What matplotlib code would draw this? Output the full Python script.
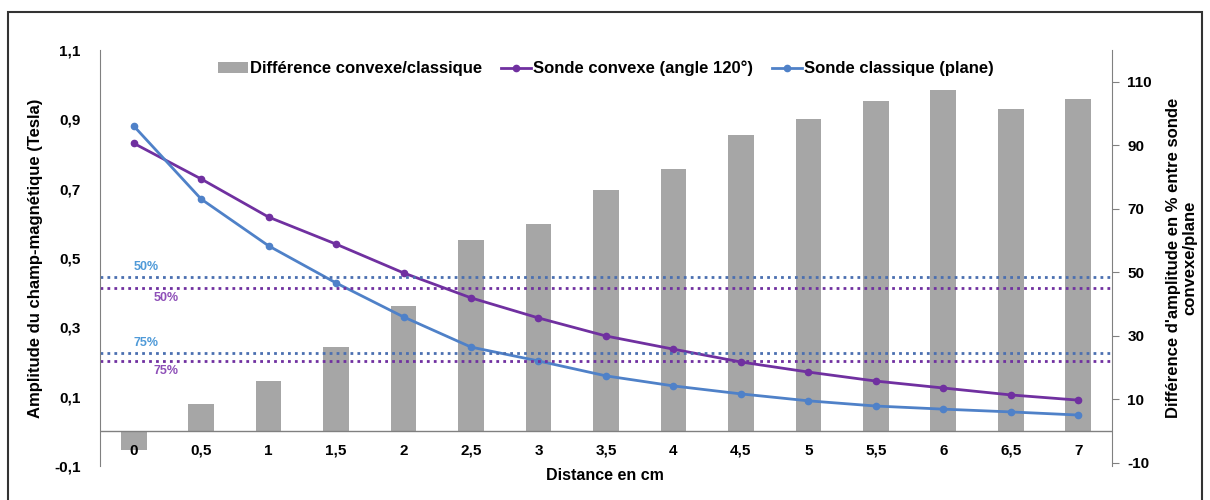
import matplotlib.pyplot as plt
import numpy as np
from matplotlib.patches import Rectangle

plt.rcParams['font.family'] = ['Liberation Sans', 'DejaVu Sans']
plt.rcParams['font.weight'] = 'bold'
plt.rcParams['axes.unicode_minus'] = False

distances = ['0', '0,5', '1', '1,5', '2', '2,5', '3', '3,5', '4', '4,5', '5', '5,5', '6', '6,5', '7']
diff_pct = [-6, 8.6, 15.8, 26.5, 39.4, 60.2, 65.3, 76, 82.6, 93.3, 98.3, 104, 107.5, 101.5, 104.5]
convexe = [0.831, 0.728, 0.618, 0.540, 0.457, 0.385, 0.327, 0.275, 0.237, 0.200, 0.171, 0.145, 0.125, 0.105, 0.090]
classique = [0.881, 0.670, 0.535, 0.428, 0.330, 0.243, 0.203, 0.160, 0.131, 0.108, 0.088, 0.073, 0.064, 0.056, 0.047]
seuils_classique = [0.445, 0.226]   # 50% et 75% sonde plane
seuils_convexe = [0.414, 0.203]     # 50% et 75% sonde convexe
seuil_labels = ['50%', '75%']

c_purple = '#7030a0'
c_blue = '#4f81c8'
c_bar = '#a6a6a6'
c_axis = '#808080'

x = np.arange(len(distances))

fig = plt.figure(figsize=(12.1, 5.0), dpi=100)
ax = fig.add_axes([0.0826, 0.068, 0.8364, 0.832])
ax2 = ax.twinx()
ax.set_zorder(ax2.get_zorder() + 1)
ax.patch.set_visible(False)

# barres (axe droit)
bars = ax2.bar(x, diff_pct, width=0.38, color=c_bar, label='Différence convexe/classique')
ax2.set_ylim(-11, 120)
ax2.set_yticks(np.arange(-10, 111, 20))
ax2.tick_params(axis='y', direction='out', length=5, color=c_axis, labelsize=11, pad=6)

# courbes (axe gauche)
l1, = ax.plot(x, convexe, color=c_purple, lw=2, marker='o', ms=4.5, label='Sonde convexe (angle 120°)')
l2, = ax.plot(x, classique, color=c_blue, lw=2, marker='o', ms=4.5, label='Sonde classique (plane)')

for v, lab in zip(seuils_classique, seuil_labels):
    ax.axhline(v, color='#4a6fb0', ls=(0, (1, 1.5)), lw=2)
    ax.text(0.0, v + 0.012, lab, color='#4f9ad8', fontsize=9, fontweight='bold', va='bottom')
for v, lab in zip(seuils_convexe, seuil_labels):
    ax.axhline(v, color=c_purple, ls=(0, (1, 1.5)), lw=2)
    ax.text(0.3, v - 0.012, lab, color='#8e50b8', fontsize=9, fontweight='bold', va='top')

ax.spines['bottom'].set_position(('data', 0))
for a in (ax, ax2):
    a.spines['top'].set_visible(False)
    a.spines['bottom'].set_visible(False)
    a.spines['left'].set_color(c_axis)
    a.spines['right'].set_color(c_axis)
ax.axhline(0, color=c_axis, lw=1, zorder=1)
ax2.spines['left'].set_visible(False)
ax.spines['right'].set_visible(False)

ax.set_xlim(-0.5, len(x) - 0.5)
ax.set_ylim(-0.1, 1.1)
ax.set_yticks([-0.1, 0.1, 0.3, 0.5, 0.7, 0.9, 1.1])
ax.set_yticklabels(['-0,1', '0,1', '0,3', '0,5', '0,7', '0,9', '1,1'])
ax.tick_params(axis='y', length=0, labelsize=11, pad=14)
ax.set_xticks(x)
ax.set_xticklabels(distances, va='baseline')
ax.tick_params(axis='x', length=0, labelsize=11, pad=17)

ax.set_ylabel('Amplitude du champ-magnétique (Tesla)', fontsize=12, fontweight='bold', labelpad=8)
ax2.set_ylabel("Différence d'amplitude en % entre sonde\nconvexe/plane", fontsize=12,
               fontweight='bold', labelpad=10, linespacing=1.1)
fig.text(0.5, 0.05, 'Distance en cm', ha='center', va='center', fontsize=11.5, fontweight='bold')

ax.legend([bars, l1, l2], [bars.get_label(), l1.get_label(), l2.get_label()],
          loc='upper center', bbox_to_anchor=(0.5, 1.01), ncol=3, frameon=False,
          fontsize=12, handlelength=1.8, columnspacing=1.1, handletextpad=0.15)

fig.patches.append(Rectangle((8 / 1210, -0.01), 1194 / 1210, 0.986, transform=fig.transFigure,
                             fill=False, edgecolor='#333333', lw=1.5))

fig.savefig('out.png', dpi=100)
